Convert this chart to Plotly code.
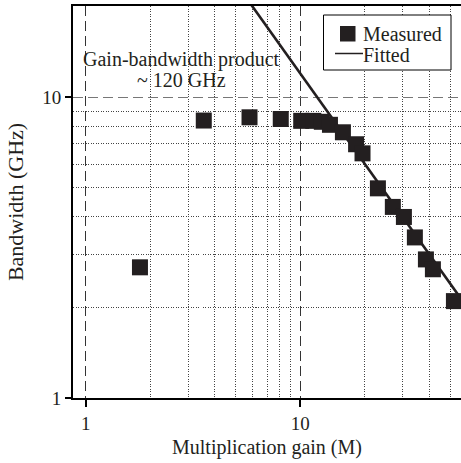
import plotly.graph_objects as go

# Measured data (multiplication gain M, bandwidth GHz)
gain = [1.79, 3.55, 5.80, 8.11, 10.1, 11.5, 12.6, 13.75, 15.8, 18.2, 19.5,
        23.0, 27.0, 30.4, 34.2, 38.5, 41.5, 52.0]
bandwidth = [2.72, 8.37, 8.58, 8.47, 8.35, 8.35, 8.29, 8.10, 7.65, 6.98, 6.51,
             4.98, 4.32, 4.00, 3.42, 2.89, 2.68, 2.10]

# Fitted: gain-bandwidth product ~120 GHz -> B = GBP / M
GBP = 120.0
fit_gain = [5.9, 60.0]
fit_bw = [GBP / m for m in fit_gain]

x_minor = [2, 3, 4, 5, 6, 7, 8, 9, 20, 30, 40, 50]
y_minor = [2, 3, 4, 5, 6, 7, 8, 9]
legend_labels = ["Measured", "Fitted"]

FONT = "Liberation Serif"
INK = "#231f20"

fig = go.Figure()
fig.add_trace(go.Scatter(
    x=fit_gain, y=fit_bw, mode="lines", name=legend_labels[1],
    line=dict(color=INK, width=2.6), showlegend=False,
))
fig.add_trace(go.Scatter(
    x=gain, y=bandwidth, mode="markers", name=legend_labels[0],
    marker=dict(symbol="square", size=16, color=INK, line=dict(width=0)),
    showlegend=False,
))

L, R, T, B = 73, 0, 6, 65
W, H = 461, 463
PW, PH = W - L - R, H - T - B


def px(x):
    return (x - L) / PW


def py(y):
    return 1 - (y - T) / PH


fig.update_layout(
    width=W, height=H,
    margin=dict(l=L, r=R, t=T, b=B, autoexpand=False),
    plot_bgcolor="white", paper_bgcolor="white",
    font=dict(family=FONT, size=19, color=INK),
    showlegend=False,
    xaxis=dict(
        type="log", range=[-0.0592, 1.749],
        showline=True, linecolor="black", linewidth=2, mirror=True,
        ticks="outside", ticklen=7, tickwidth=1.5, tickcolor="black",
        tickvals=[1, 10], ticktext=["1", "10"],
        showgrid=True, gridcolor="#333333", gridwidth=1.2, griddash="10px,5px",
        minor=dict(tickvals=x_minor, showgrid=True, gridcolor="#444444",
                   gridwidth=1, griddash="1px,1.5px", ticks=""),
        zeroline=False,
        title=dict(text="Multiplication gain (M)", standoff=7,
                   font=dict(family=FONT, size=20, color=INK)),
        tickfont=dict(family=FONT, size=19, color=INK),
    ),
    yaxis=dict(
        type="log", range=[0, 1.3036],
        showline=True, linecolor="black", linewidth=2, mirror=False,
        ticks="outside", ticklen=6, tickwidth=1.5, tickcolor="black",
        tickvals=[1, 10], ticktext=["1", "10"],
        showgrid=True, gridcolor="#777777", gridwidth=1.2, griddash="10px,5px",
        minor=dict(tickvals=y_minor, showgrid=True, gridcolor="#444444",
                   gridwidth=1, griddash="1px,1.5px", ticks=""),
        zeroline=False,
        title=dict(text="Bandwidth (GHz)", standoff=13,
                   font=dict(family=FONT, size=22, color=INK)),
        tickfont=dict(family=FONT, size=19, color=INK),
    ),
)

# Annotation
ax = px(181)
fig.add_annotation(xref="paper", yref="paper", x=ax, y=py(60),
                   text="Gain-bandwidth product", showarrow=False,
                   xanchor="center", yanchor="middle",
                   font=dict(family=FONT, size=20, color=INK))
fig.add_annotation(xref="paper", yref="paper", x=ax, y=py(80),
                   text="~ 120 GHz", showarrow=False,
                   xanchor="center", yanchor="middle",
                   font=dict(family=FONT, size=20, color=INK))

# Legend box (drawn to match the original's compact layout)
fig.add_shape(type="rect", xref="paper", yref="paper",
              x0=px(323.5), x1=px(451), y0=py(70), y1=py(15),
              line=dict(color="black", width=1), fillcolor="white", layer="above")
fig.add_shape(type="rect", xref="paper", yref="paper",
              x0=px(340), x1=px(355.5), y0=py(41.5), y1=py(26),
              line=dict(width=0), fillcolor=INK, layer="above")
fig.add_shape(type="line", xref="paper", yref="paper",
              x0=px(335), x1=px(363), y0=py(53.5), y1=py(53.5),
              line=dict(color=INK, width=1.5), layer="above")
fig.add_annotation(xref="paper", yref="paper", x=px(361), y=py(34),
                   text=legend_labels[0], showarrow=False,
                   xanchor="left", yanchor="middle",
                   font=dict(family=FONT, size=20, color=INK))
fig.add_annotation(xref="paper", yref="paper", x=px(361), y=py(55),
                   text=legend_labels[1], showarrow=False,
                   xanchor="left", yanchor="middle",
                   font=dict(family=FONT, size=20, color=INK))

fig.write_html("out.html",
               config={"displayModeBar": False},
               post_script="document.body.style.margin='0px';document.body.style.overflow='hidden';")
